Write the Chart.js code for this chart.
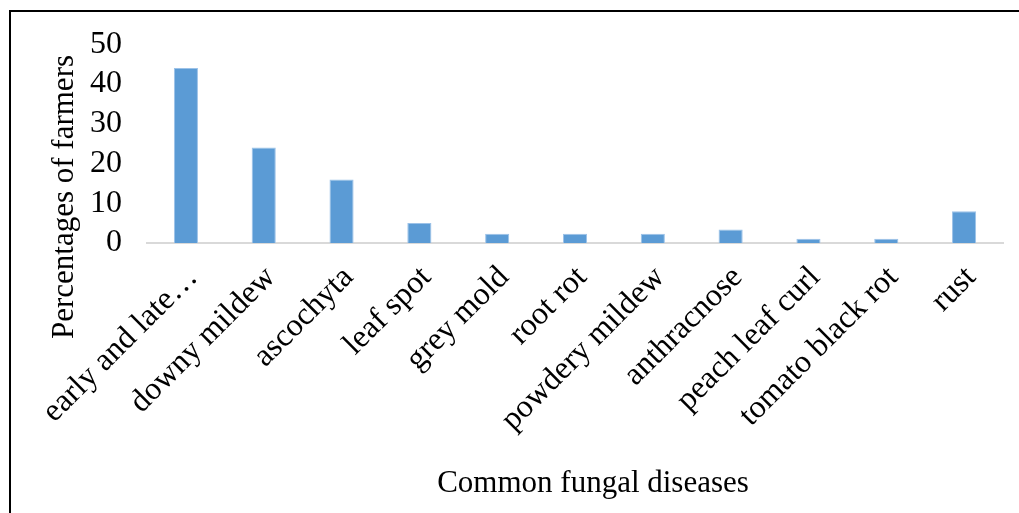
<!DOCTYPE html>
<html>
<head>
<meta charset="utf-8">
<title>Common fungal diseases</title>
<script src="https://cdn.jsdelivr.net/npm/chart.js@4/dist/chart.umd.min.js"></script>
<style>
  html, body { margin: 0; padding: 0; background: #ffffff; }
  #wrap { position: relative; width: 1019px; height: 513px; }
</style>
</head>
<body>
<div id="wrap"><canvas id="chart"></canvas></div>
<script>
// Fungal diseases reported and the share of farmers naming each
const diseases = [
  'early and late\u2026', 'downy mildew', 'ascochyta', 'leaf spot', 'grey mold',
  'root rot', 'powdery mildew', 'anthracnose', 'peach leaf curl', 'tomato black rot', 'rust'
];
const farmerPercent = [44, 24, 16, 5, 2.3, 2.3, 2.3, 3.4, 1.1, 1.1, 8];
const yTicks = [0, 10, 20, 30, 40, 50];
const xTitle = 'Common fungal diseases';
const yTitle = 'Percentages of farmers';

const FONT = '"Liberation Serif", "Times New Roman", serif';

// Frame lines on the top and left edges plus the two axis titles
const framePlugin = {
  id: 'frame',
  beforeDraw(chart) {
    const ctx = chart.ctx;
    ctx.save();
    ctx.fillStyle = '#ffffff';
    ctx.fillRect(0, 0, chart.width, chart.height);
    ctx.fillStyle = '#000000';
    ctx.fillRect(9, 10, chart.width - 9, 2);
    ctx.fillRect(9, 10, 2, chart.height - 10);
    ctx.restore();
  },
  afterDraw(chart) {
    const ctx = chart.ctx;
    ctx.save();
    ctx.fillStyle = '#000000';
    ctx.font = '31px ' + FONT;
    ctx.textAlign = 'center';
    ctx.textBaseline = 'alphabetic';
    ctx.fillText(xTitle, 593, 492);
    ctx.translate(73, 197);
    ctx.rotate(-Math.PI / 2);
    ctx.fillText(yTitle, 0, 0);
    ctx.restore();
  }
};

new Chart(document.getElementById('chart'), {
  type: 'bar',
  data: {
    labels: diseases,
    datasets: [{
      data: farmerPercent,
      backgroundColor: '#5b9bd5',
      borderColor: '#9cc2e8',
      borderWidth: 1,
      barPercentage: 0.31,
      categoryPercentage: 1
    }]
  },
  options: {
    responsive: true,
    maintainAspectRatio: false,
    animation: false,
    events: [],
    layout: { padding: { left: 0, right: 16, top: 42, bottom: 0 } },
    plugins: { legend: { display: false }, tooltip: { enabled: false } },
    scales: {
      x: {
        offset: true,
        grid: { display: false },
        border: { display: true, color: '#d9d9d9', width: 2 },
        ticks: {
          color: '#000000',
          font: { family: FONT, size: 32 },
          minRotation: 45,
          maxRotation: 45,
          autoSkip: false,
          padding: 8,
          labelOffset: 7
        },
        afterFit(scale) { scale.height = 270; }
      },
      y: {
        min: 0,
        max: 50,
        grid: { display: false, drawTicks: false },
        border: { display: false },
        afterBuildTicks(scale) { scale.ticks = yTicks.map(v => ({ value: v })); },
        ticks: {
          color: '#000000',
          font: { family: FONT, size: 32 },
          padding: 25,
          autoSkip: false
        },
        afterFit(scale) { scale.width = 147; }
      }
    }
  },
  plugins: [framePlugin]
});
</script>
</body>
</html>
